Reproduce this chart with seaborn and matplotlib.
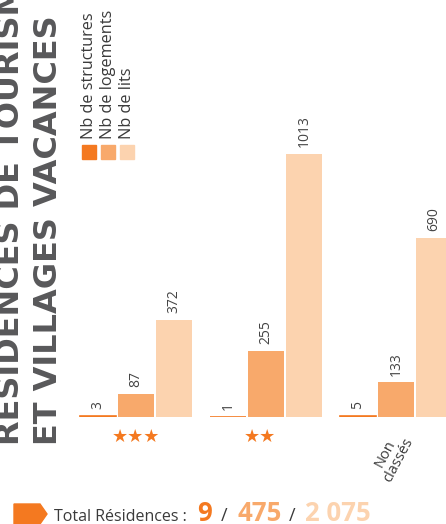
import pandas as pd
import numpy as np
import matplotlib
matplotlib.use("Agg")
import matplotlib.pyplot as plt
import seaborn as sns
from matplotlib.patches import Polygon, Rectangle

# data
categories = ["★★★", "★★", "Non\nclassés"]
series = ["Nb de structures", "Nb de logements", "Nb de lits"]
structures = [3, 1, 5]
logements = [87, 255, 133]
lits = [372, 1013, 690]
totals = ["9", "475", "2 075"]

colors = ["#F47920", "#F8A96B", "#FCD3AF"]
gray = "#58585A"
text_col = "#3A3A3A"

df = pd.DataFrame({
    "categorie": categories * 3,
    "serie": [s for s in series for _ in categories],
    "valeur": structures + logements + lits,
})

sns.set_theme(style="white")
plt.rcParams["font.family"] = ["Open Sans", "DejaVu Sans"]

W, H = 446, 524
fig = plt.figure(figsize=(W / 100, H / 100), dpi=100)
ax = fig.add_axes([0, 107 / H, 1, 417 / H])

sns.barplot(data=df, x="categorie", y="valeur", hue="serie", palette=colors,
            width=0.88, gap=0.07, saturation=1, legend=False, ax=ax,
            linewidth=0)

# tiny bars need a visible line
for p in ax.containers[0]:
    p.set_edgecolor(colors[0])
    p.set_linewidth(1.2)

for c in ax.containers:
    ax.bar_label(c, rotation=90, padding=5, fontsize=10, color="#444444")

ax.set_xlim(-136 / 130, (W - 136) / 130)
ax.set_ylim(0, 417 / 0.2596)
ax.set_xticks([])
ax.set_yticks([])
ax.set_xlabel("")
ax.set_ylabel("")
sns.despine(ax=ax, left=True, bottom=True)

# category labels
ax.annotate(categories[0], xy=(0, 0), xytext=(0, -14), textcoords="offset points",
            ha="center", va="center", fontsize=13, color=colors[0],
            family=["DejaVu Sans"])
ax.annotate(categories[1], xy=(1, 0), xytext=(-4, -14), textcoords="offset points",
            ha="center", va="center", fontsize=13, color=colors[0],
            family=["DejaVu Sans"])
ax.annotate(categories[2], xy=(2, 0), xytext=(-3, -29), textcoords="offset points",
            ha="center", va="center", fontsize=10.5, color=text_col,
            rotation=62, multialignment="center", linespacing=0.9)

# vertical title
fig.text(11 / W, 1 - 445 / H, "RÉSIDENCES DE TOURISME", rotation=90,
         ha="center", va="bottom", fontsize=23, fontweight="bold",
         color=gray, family=["DejaVu Sans"])
fig.text(49 / W, 1 - 445 / H, "ET VILLAGES VACANCES", rotation=90,
         ha="center", va="bottom", fontsize=23, fontweight="bold",
         color=gray, family=["DejaVu Sans"])

# legend, rotated
for i, (lab, col) in enumerate(zip(series, colors)):
    x0 = 82 + i * 19
    fig.patches.append(Rectangle((x0 / W, 1 - 159 / H), 14 / W, 14 / H,
                                 transform=fig.transFigure, color=col))
    fig.text((x0 + 7) / W, 1 - 139 / H, lab, rotation=90, ha="center",
             va="bottom", fontsize=11.7, color=text_col)

# bottom total line
arrow = [(14, 504), (40, 504), (47, 514), (40, 524), (14, 524)]
fig.patches.append(Polygon([(x / W, 1 - y / H) for x, y in arrow], closed=True,
                           transform=fig.transFigure, color=colors[0]))
base = 3 / H
fig.text(54 / W, base, "Total Résidences :", fontsize=11.5, color=text_col,
         va="baseline")
xs = [197, 237, 305]
for x, t, col in zip(xs, totals, colors):
    fig.text(x / W, base, t, fontsize=18.5, fontweight="bold", color=col,
             va="baseline")
for x in [221, 289]:
    fig.text(x / W, base, "/", fontsize=13, color=text_col, va="baseline")

fig.savefig("out.png", dpi=100)
